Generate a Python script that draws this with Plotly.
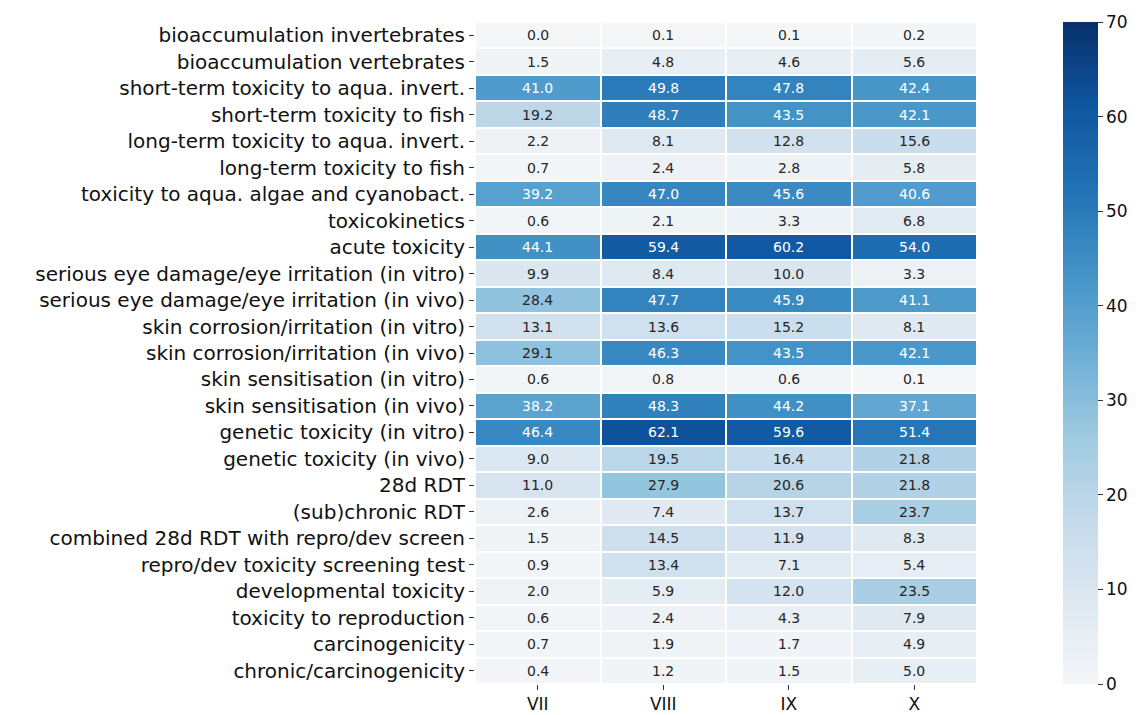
import plotly.graph_objects as go

rows = [
    "bioaccumulation invertebrates", "bioaccumulation vertebrates",
    "short-term toxicity to aqua. invert.", "short-term toxicity to fish",
    "long-term toxicity to aqua. invert.", "long-term toxicity to fish",
    "toxicity to aqua. algae and cyanobact.", "toxicokinetics", "acute toxicity",
    "serious eye damage/eye irritation (in vitro)", "serious eye damage/eye irritation (in vivo)",
    "skin corrosion/irritation (in vitro)", "skin corrosion/irritation (in vivo)",
    "skin sensitisation (in vitro)", "skin sensitisation (in vivo)",
    "genetic toxicity (in vitro)", "genetic toxicity (in vivo)", "28d RDT",
    "(sub)chronic RDT", "combined 28d RDT with repro/dev screen",
    "repro/dev toxicity screening test", "developmental toxicity",
    "toxicity to reproduction", "carcinogenicity", "chronic/carcinogenicity",
]
cols = ["VII", "VIII", "IX", "X"]

VII = [0.0, 1.5, 41.0, 19.2, 2.2, 0.7, 39.2, 0.6, 44.1, 9.9, 28.4, 13.1, 29.1, 0.6, 38.2, 46.4, 9.0, 11.0, 2.6, 1.5, 0.9, 2.0, 0.6, 0.7, 0.4]
VIII = [0.1, 4.8, 49.8, 48.7, 8.1, 2.4, 47.0, 2.1, 59.4, 8.4, 47.7, 13.6, 46.3, 0.8, 48.3, 62.1, 19.5, 27.9, 7.4, 14.5, 13.4, 5.9, 2.4, 1.9, 1.2]
IX = [0.1, 4.6, 47.8, 43.5, 12.8, 2.8, 45.6, 3.3, 60.2, 10.0, 45.9, 15.2, 43.5, 0.6, 44.2, 59.6, 16.4, 20.6, 13.7, 11.9, 7.1, 12.0, 4.3, 1.7, 1.5]
X = [0.2, 5.6, 42.4, 42.1, 15.6, 5.8, 40.6, 6.8, 54.0, 3.3, 41.1, 8.1, 42.1, 0.1, 37.1, 51.4, 21.8, 21.8, 23.7, 8.3, 5.4, 23.5, 7.9, 4.9, 5.0]

series = [VII, VIII, IX, X]
z = [[series[j][i] for j in range(len(cols))] for i in range(len(rows))]

colorscale = [
    [0.0, "#f4f6f8"], [0.125, "#dde8f1"], [0.25, "#c4daeb"], [0.375, "#9ecae1"],
    [0.5, "#6baed6"], [0.625, "#4292c6"], [0.75, "#2171b5"], [0.875, "#0f56a0"],
    [1.0, "#08306b"],
]

fig = go.Figure(go.Heatmap(
    z=z, x=cols, y=rows, zmin=0, zmax=70, colorscale=colorscale,
    xgap=2, ygap=2, hoverongaps=False,
    colorbar=dict(
        thickness=35, len=1.0, lenmode="fraction", y=0.5, yanchor="middle",
        x=1.172, xanchor="left", xpad=0, ypad=0, outlinewidth=0,
        ticks="outside", ticklen=5, tickcolor="#333",
        tickvals=[0, 10, 20, 30, 40, 50, 60, 70],
        tickfont=dict(family="DejaVu Sans", size=17, color="#111"),
    ),
))

annotations = []
for i, r in enumerate(rows):
    for j, c in enumerate(cols):
        v = z[i][j]
        annotations.append(dict(
            x=c, y=r, text=f"{v:.1f}", showarrow=False,
            font=dict(family="DejaVu Sans", size=14,
                      color="#ffffff" if v > 36 else "#262626"),
        ))

fig.update_layout(
    width=1144, height=715,
    margin=dict(l=475, r=167, t=22, b=31),
    plot_bgcolor="white", paper_bgcolor="white",
    annotations=annotations,
    font=dict(family="DejaVu Sans", color="#111"),
)
fig.update_xaxes(showgrid=False, zeroline=False, ticks="outside", ticklen=5,
                 tickcolor="#333", tickfont=dict(size=17), showline=False,
                 automargin=False)
fig.update_yaxes(autorange="reversed", showgrid=False, zeroline=False,
                 ticks="outside", ticklen=5, tickcolor="#333",
                 tickfont=dict(size=20), showline=False, automargin=False)

fig.write_html(
    "out.html",
    config={"displayModeBar": False},
    post_script="document.body.style.margin='0';document.body.style.overflow='hidden';",
)
